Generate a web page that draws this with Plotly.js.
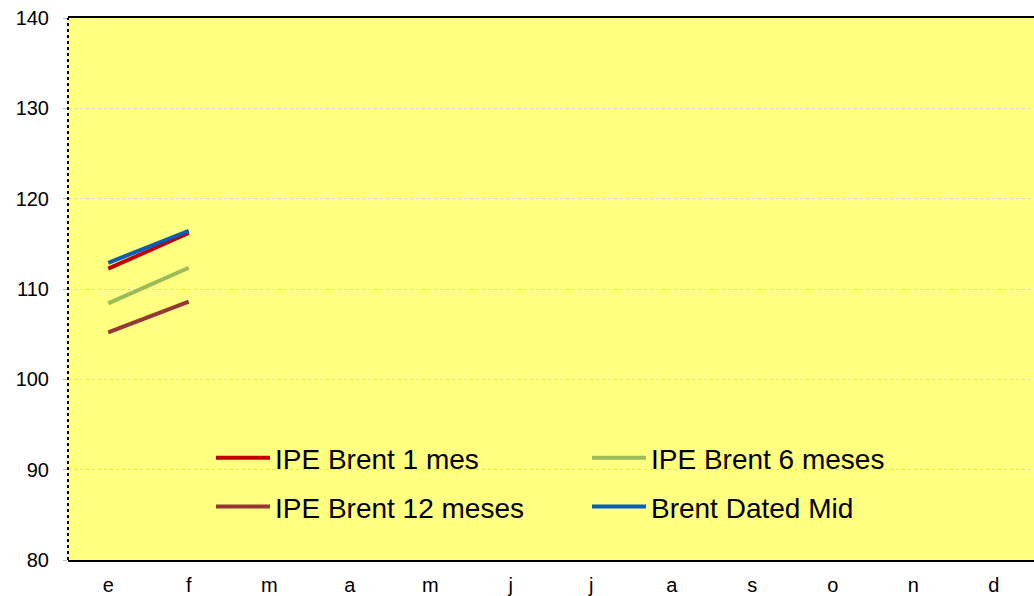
<!DOCTYPE html>
<html lang="es">
<head>
    <meta charset="UTF-8">
    <title>IPE Brent</title>
    <script src="https://cdn.plot.ly/plotly-3.0.1.min.js"></script>
    <style>
        body { margin: 0; background: #fff; }
        #chart { width: 1034px; height: 596px; }
    </style>
</head>
<body>
    <div id="chart"></div>
    <script>
        const months = ["e", "f", "m", "a", "m ", "j", "j ", "a ", "s", "o", "n", "d"];
        const monthLabels = ["e", "f", "m", "a", "m", "j", "j", "a", "s", "o", "n", "d"];

        const brent1 = [112.25, 116.2];
        const brent6 = [108.4, 112.35];
        const brent12 = [105.2, 108.6];
        const dated = [112.9, 116.45];

        function serie(name, values, color, legend) {
            return {
                x: months.slice(0, values.length),
                y: values,
                name: name,
                type: "scatter",
                mode: "lines",
                legend: legend,
                line: { color: color, width: 4 }
            };
        }

        const data = [
            serie("IPE Brent 1 mes", brent1, "#C00000", "legend"),
            serie("IPE Brent 6 meses", brent6, "#9BBB59", "legend"),
            serie("IPE Brent 12 meses", brent12, "#953735", "legend2"),
            serie("Brent Dated Mid", dated, "#0A5CB8", "legend2")
        ];

        // two legend rows, two columns each
        function fila(y) {
            return {
                orientation: "h",
                x: 0.148, xanchor: "left",
                y: y, yanchor: "middle",
                bgcolor: "rgba(0,0,0,0)",
                font: { size: 28 },
                entrywidth: 307,
                entrywidthmode: "pixels",
                itemwidth: 54
            };
        }

        const layout = {
            width: 1034,
            height: 596,
            margin: { l: 68, r: 0, t: 18, b: 36 },
            paper_bgcolor: "#ffffff",
            plot_bgcolor: "#FFFF80",
            font: { family: "Arial, 'Liberation Sans', sans-serif", color: "#000", size: 20 },
            showlegend: true,
            legend: fila(0.188),
            legend2: fila(0.098),
            xaxis: {
                type: "category",
                categoryorder: "array",
                categoryarray: months,
                tickvals: months,
                ticktext: monthLabels,
                range: [-0.5, 11.5],
                showline: true, linecolor: "#000", linewidth: 2,
                mirror: true,
                showgrid: false,
                ticks: "",
                ticklabelstandoff: 6,
                fixedrange: true
            },
            yaxis: {
                range: [80, 140],
                dtick: 10,
                showline: false,
                showgrid: true,
                gridcolor: "#d4d4d4",
                griddash: "dot",
                gridwidth: 1,
                zeroline: false,
                ticks: "outside",
                ticklen: 4,
                tickcolor: "#bbbbbb",
                ticklabelstandoff: 10,
                fixedrange: true
            },
            shapes: [{
                type: "line", xref: "paper", yref: "paper",
                x0: 0, x1: 0, y0: 0, y1: 1,
                line: { color: "#000", width: 2, dash: "dot" }
            }]
        };

        Plotly.newPlot("chart", data, layout, { displayModeBar: false, staticPlot: true });
    </script>
</body>
</html>
